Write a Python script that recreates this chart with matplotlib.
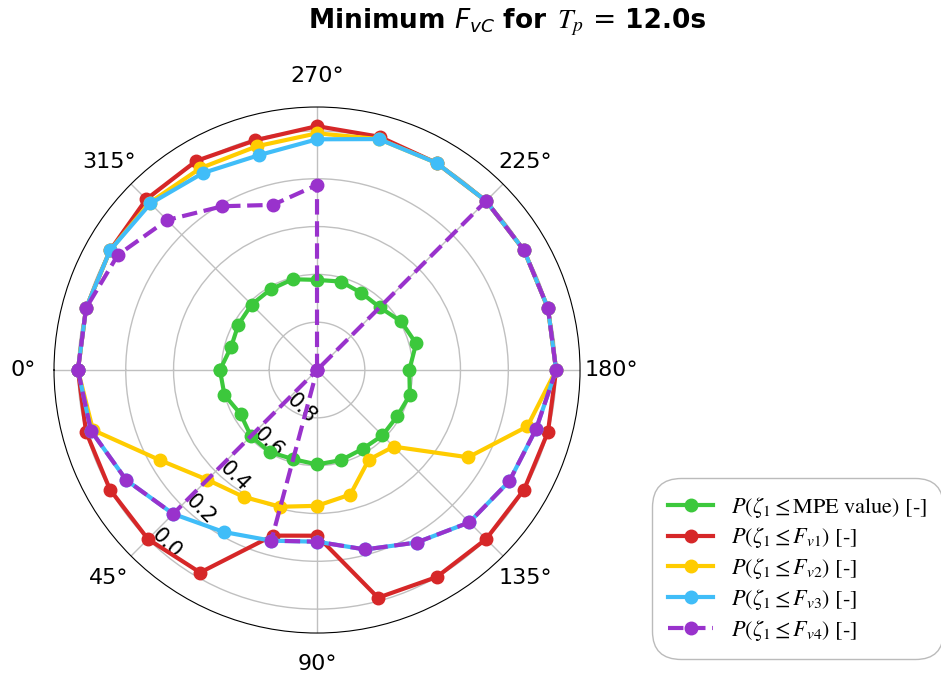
import numpy as np
import matplotlib
matplotlib.use("Agg")
import matplotlib.pyplot as plt
from matplotlib.font_manager import FontProperties
from matplotlib.offsetbox import TextArea, HPacker, AnchoredOffsetbox

# Wave direction bins (degrees)
directions = [0, 15, 30, 45, 60, 75, 90, 105, 120, 135, 150, 165,
              180, 195, 210, 225, 240, 255, 270, 285, 300, 315, 330, 345]

# Non-exceedance probabilities per direction
p_mpe = [0.594, 0.599, 0.631, 0.609, 0.604, 0.614, 0.605, 0.610, 0.619, 0.613, 0.613, 0.598,
         0.614, 0.571, 0.594, 0.629, 0.628, 0.617, 0.623, 0.607, 0.611, 0.613, 0.620, 0.628]
p_fv1 = [0.0, 0.0, 0.0, 0.0, 0.022, 0.283, 0.307, 0.014, 0.0, 0.0, 0.0, 0.0,
         0.0, 0.0, 0.0, 0.0, 0.0, -0.01, -0.02, 0.005, -0.01, -0.01, 0.0, 0.0]
p_fv2 = [0.0, 0.03, 0.244, 0.351, 0.387, 0.408, 0.432, 0.461, 0.567, 0.547, 0.270, 0.089,
         0.0, 0.0, 0.0, 0.0, 0.0, 0.0, 0.01, 0.031, 0.025, 0.01, 0.0, 0.0]
p_fv3 = [0.0, 0.021, 0.079, 0.149, 0.218, 0.261, 0.282, 0.223, 0.167, 0.099, 0.071, 0.051,
         0.0, 0.0, 0.0, 0.0, 0.0, 0.0, 0.035, 0.069, 0.048, 0.015, 0.0, 0.0]
p_fv4 = [0.0, 0.021, 0.079, 0.149, 1.0, 0.261, 0.282, 0.223, 0.167, 0.099, 0.071, 0.051,
         0.0, 0.0, 0.0, 0.0, 1.0, 1.0, 0.226, 0.285, 0.209, 0.113, 0.038, 0.0]

labels = [r"$P(\zeta_1 \leq \mathrm{MPE\ value})$ [-]",
          r"$P(\zeta_1 \leq F_{v1})$ [-]",
          r"$P(\zeta_1 \leq F_{v2})$ [-]",
          r"$P(\zeta_1 \leq F_{v3})$ [-]",
          r"$P(\zeta_1 \leq F_{v4})$ [-]"]
colors = ["#3cc83c", "#d62728", "#ffcc00", "#40bdf8", "#9932cc"]
styles = ["-", "-", "-", "-", "--"]
series = [p_mpe, p_fv1, p_fv2, p_fv3, p_fv4]


def closed(values):
    return list(values) + [values[0]]


theta = np.deg2rad(closed(directions))
theta[-1] = 2 * np.pi

fig = plt.figure(figsize=(9.41, 6.79), dpi=100)
ax = fig.add_axes([0.0574, 0.0677, 0.559, 0.7747], projection="polar")
ax.set_theta_zero_location("W")
ax.set_theta_direction(1)

handles = []
for vals, col, ls, lab in zip(series, colors, styles, labels):
    ln, = ax.plot(theta, closed(vals), color=col, linestyle=ls, linewidth=3,
                  marker="o", markersize=9, label=lab)
    handles.append(ln)

ax.set_ylim(1.0, -0.1)
ax.set_yticks([0.0, 0.2, 0.4, 0.6, 0.8])
ax.set_xticks(np.deg2rad(np.arange(0, 360, 45)))
ax.set_rlabel_position(45)
ax.tick_params(axis="y", labelrotation="auto", labelsize=15)
ax.tick_params(axis="x", labelsize=16, pad=12)
ax.grid(True, color="#c0c0c0", linewidth=1.0)

# Legend in a serif math face
leg_font = FontProperties(family="STIXGeneral", size=16, math_fontfamily="stix")
leg = fig.legend(handles=handles, loc="upper left", bbox_to_anchor=(0.689, 0.301),
                 prop=leg_font, fancybox=True, framealpha=1, edgecolor="#bbbbbb",
                 handlelength=2.0, handletextpad=0.8, borderpad=0.4,
                 labelspacing=0.26, numpoints=1)
leg.get_frame().set_boxstyle("round", pad=0.35, rounding_size=1.3)
leg.get_frame().set_linewidth(1.0)

# Title built from mixed faces
t1 = TextArea("Minimum $F_{vC}$ for", textprops=dict(fontsize=19, fontweight="bold"))
t2 = TextArea("$T_p$ =", textprops=dict(fontsize=20, math_fontfamily="stix"))
t3 = TextArea("12.0s", textprops=dict(fontsize=19, fontweight="bold"))
pack = HPacker(children=[t1, t2, t3], align="baseline", pad=0, sep=7)
title_box = AnchoredOffsetbox(loc="center", child=pack, pad=0, borderpad=0,
                              bbox_to_anchor=(507 / 941, 1 - 22 / 679),
                              bbox_transform=fig.transFigure, frameon=False)
fig.add_artist(title_box)

fig.savefig("out.png", dpi=100)
